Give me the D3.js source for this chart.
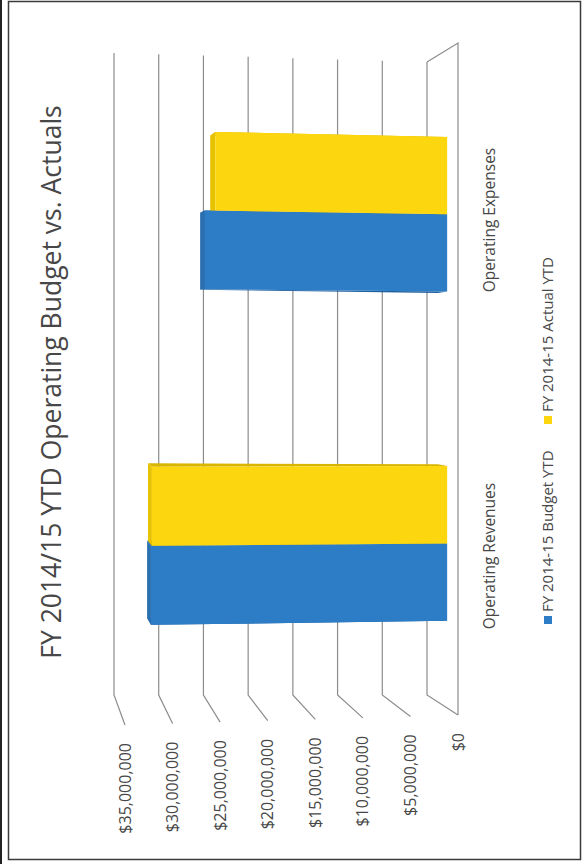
<!DOCTYPE html>
<html>
<head>
<meta charset="utf-8">
<script src="https://cdn.jsdelivr.net/npm/d3@7"></script>
<style>
  body { margin: 0; background: #fff; }
  svg { display: block; }
  text { font-family: "Open Sans", "Noto Sans", sans-serif; fill: #474747; }
</style>
</head>
<body>
<div id="chart"></div>
<script>
// Chart data
const categories = ["Operating Revenues", "Operating Expenses"];
const seriesNames = ["FY 2014-15 Budget YTD", "FY 2014-15 Actual YTD"];
const budgetYTD = [31.8e6, 26.0e6];
const actualYTD = [31.7e6, 24.9e6];
const tickValues = [0, 5e6, 10e6, 15e6, 20e6, 25e6, 30e6, 35e6];
const seriesColors = ["#2c7cc6", "#fcd70f"];
const sideColors = ["#1f5f9e", "#d9b400"];
const topColors = ["#2a6fb0", "#e6c200"];

// Page is 583 wide, 864 tall; chart is drawn on its side and rotated -90deg
const pageW = 583, pageH = 864;

const svg = d3.select('#chart')
    .append('svg')
    .attr('width', pageW)
    .attr('height', pageH);

// frame
svg.append('rect')
    .attr('x', 8.5).attr('y', 1.5)
    .attr('width', 572).attr('height', 858)
    .attr('fill', 'none')
    .attr('stroke', '#3a3a3a')
    .attr('stroke-width', 1.5);
svg.append('line')
    .attr('x1', 1).attr('x2', 1).attr('y1', 0).attr('y2', pageH)
    .attr('stroke', '#222').attr('stroke-width', 2);

// chart group: X runs along categories, Y runs along values (rotated)
const g = svg.append('g')
    .attr('transform', `translate(0,${pageH}) rotate(-90)`);

const vMax = 35e6;
// value positions on back wall and front plane
const backY = d3.scaleLinear().domain([0, vMax]).range([427, 114]);
const frontY = d3.scaleLinear().domain([0, vMax]).range([458, 125]);
// category extent on back and front, slightly skewed by perspective
const backLeftX = d3.scaleLinear().domain([0, vMax]).range([169, 169]);
const backRightX = d3.scaleLinear().domain([0, vMax]).range([802, 811]);
const frontLeftX = d3.scaleLinear().domain([0, vMax]).range([149, 139]);
const frontRightX = d3.scaleLinear().domain([0, vMax]).range([821, 830]);

// xf: 0..1 along category axis, v: value, d: depth 0 (back) .. 1 (front)
function project(xf, v, d) {
    const bx = backLeftX(v) + xf * (backRightX(v) - backLeftX(v));
    const fx = frontLeftX(v) + xf * (frontRightX(v) - frontLeftX(v));
    return [bx + (fx - bx) * d, backY(v) + (frontY(v) - backY(v)) * d];
}

const x0 = d3.scaleBand().domain(categories).range([0, 1])
    .paddingInner(0.53).paddingOuter(0.265);
const x1 = d3.scaleBand().domain(seriesNames).range([0, x0.bandwidth()]);

const line = d3.line();

// gridlines on back wall and side wall
g.append('g').selectAll('path')
    .data(tickValues)
    .enter().append('path')
    .attr('d', v => line([project(1, v, 0), project(0, v, 0), project(0, v, 1)]))
    .attr('fill', 'none')
    .attr('stroke', '#8c8c8c')
    .attr('stroke-width', 1.2);

// floor front edges
g.append('path')
    .attr('d', line([project(1, 0, 0), project(1, 0, 1), project(0, 0, 1)]))
    .attr('fill', 'none')
    .attr('stroke', '#8c8c8c')
    .attr('stroke-width', 1.2);

// tick labels
g.append('g').selectAll('text')
    .data(tickValues)
    .enter().append('text')
    .attr('x', v => frontLeftX(v) - 18)
    .attr('y', v => frontY(v))
    .attr('dy', '0.35em')
    .attr('text-anchor', 'end')
    .attr('font-size', '16px')
    .text(d3.format('$,'));

// bars
const bars = [];
categories.forEach((c, i) => {
    [budgetYTD[i], actualYTD[i]].forEach((v, s) => {
        const a = x0(c) + x1(seriesNames[s]);
        const b = a + x1.bandwidth();
        bars.push({ a, b, v, s });
    });
});
const dBack = 0.35, dFront = 0.65;

const barG = g.append('g');
// side faces
bars.forEach(d => {
    [d.a, d.b].forEach(xf => {
        barG.append('path')
            .attr('d', line([project(xf, 0, dBack), project(xf, d.v, dBack),
                project(xf, d.v, dFront), project(xf, 0, dFront)]) + 'Z')
            .attr('fill', sideColors[d.s]);
    });
});
// top faces
bars.forEach(d => {
    barG.append('path')
        .attr('d', line([project(d.a, d.v, dBack), project(d.b, d.v, dBack),
            project(d.b, d.v, dFront), project(d.a, d.v, dFront)]) + 'Z')
        .attr('fill', topColors[d.s]);
});
// front faces
bars.forEach(d => {
    barG.append('path')
        .attr('d', line([project(d.a, 0, dFront), project(d.b, 0, dFront),
            project(d.b, d.v, dFront), project(d.a, d.v, dFront)]) + 'Z')
        .attr('fill', seriesColors[d.s]);
});

// category labels
g.append('g').selectAll('text')
    .data(categories)
    .enter().append('text')
    .attr('x', c => project(x0(c) + x0.bandwidth() / 2, 0, 1)[0] - 9)
    .attr('y', 490)
    .attr('dy', '0.35em')
    .attr('text-anchor', 'middle')
    .attr('font-size', '15.5px')
    .text(c => c);

// legend
const legendX = [240, 440];
const legend = g.append('g').selectAll('g')
    .data(seriesNames)
    .enter().append('g')
    .attr('transform', (d, i) => `translate(${legendX[i]},548)`);
legend.append('rect')
    .attr('x', 0).attr('y', -4)
    .attr('width', 8).attr('height', 8)
    .attr('fill', (d, i) => seriesColors[i]);
legend.append('text')
    .attr('x', 12)
    .attr('dy', '0.35em')
    .attr('font-size', '15px')
    .text(d => d);

// title
g.append('text')
    .attr('x', 482)
    .attr('y', 61)
    .attr('text-anchor', 'middle')
    .attr('font-size', '26.5px')
    .attr('fill', '#383838')
    .text('FY 2014/15 YTD Operating Budget vs. Actuals');
</script>
</body>
</html>
